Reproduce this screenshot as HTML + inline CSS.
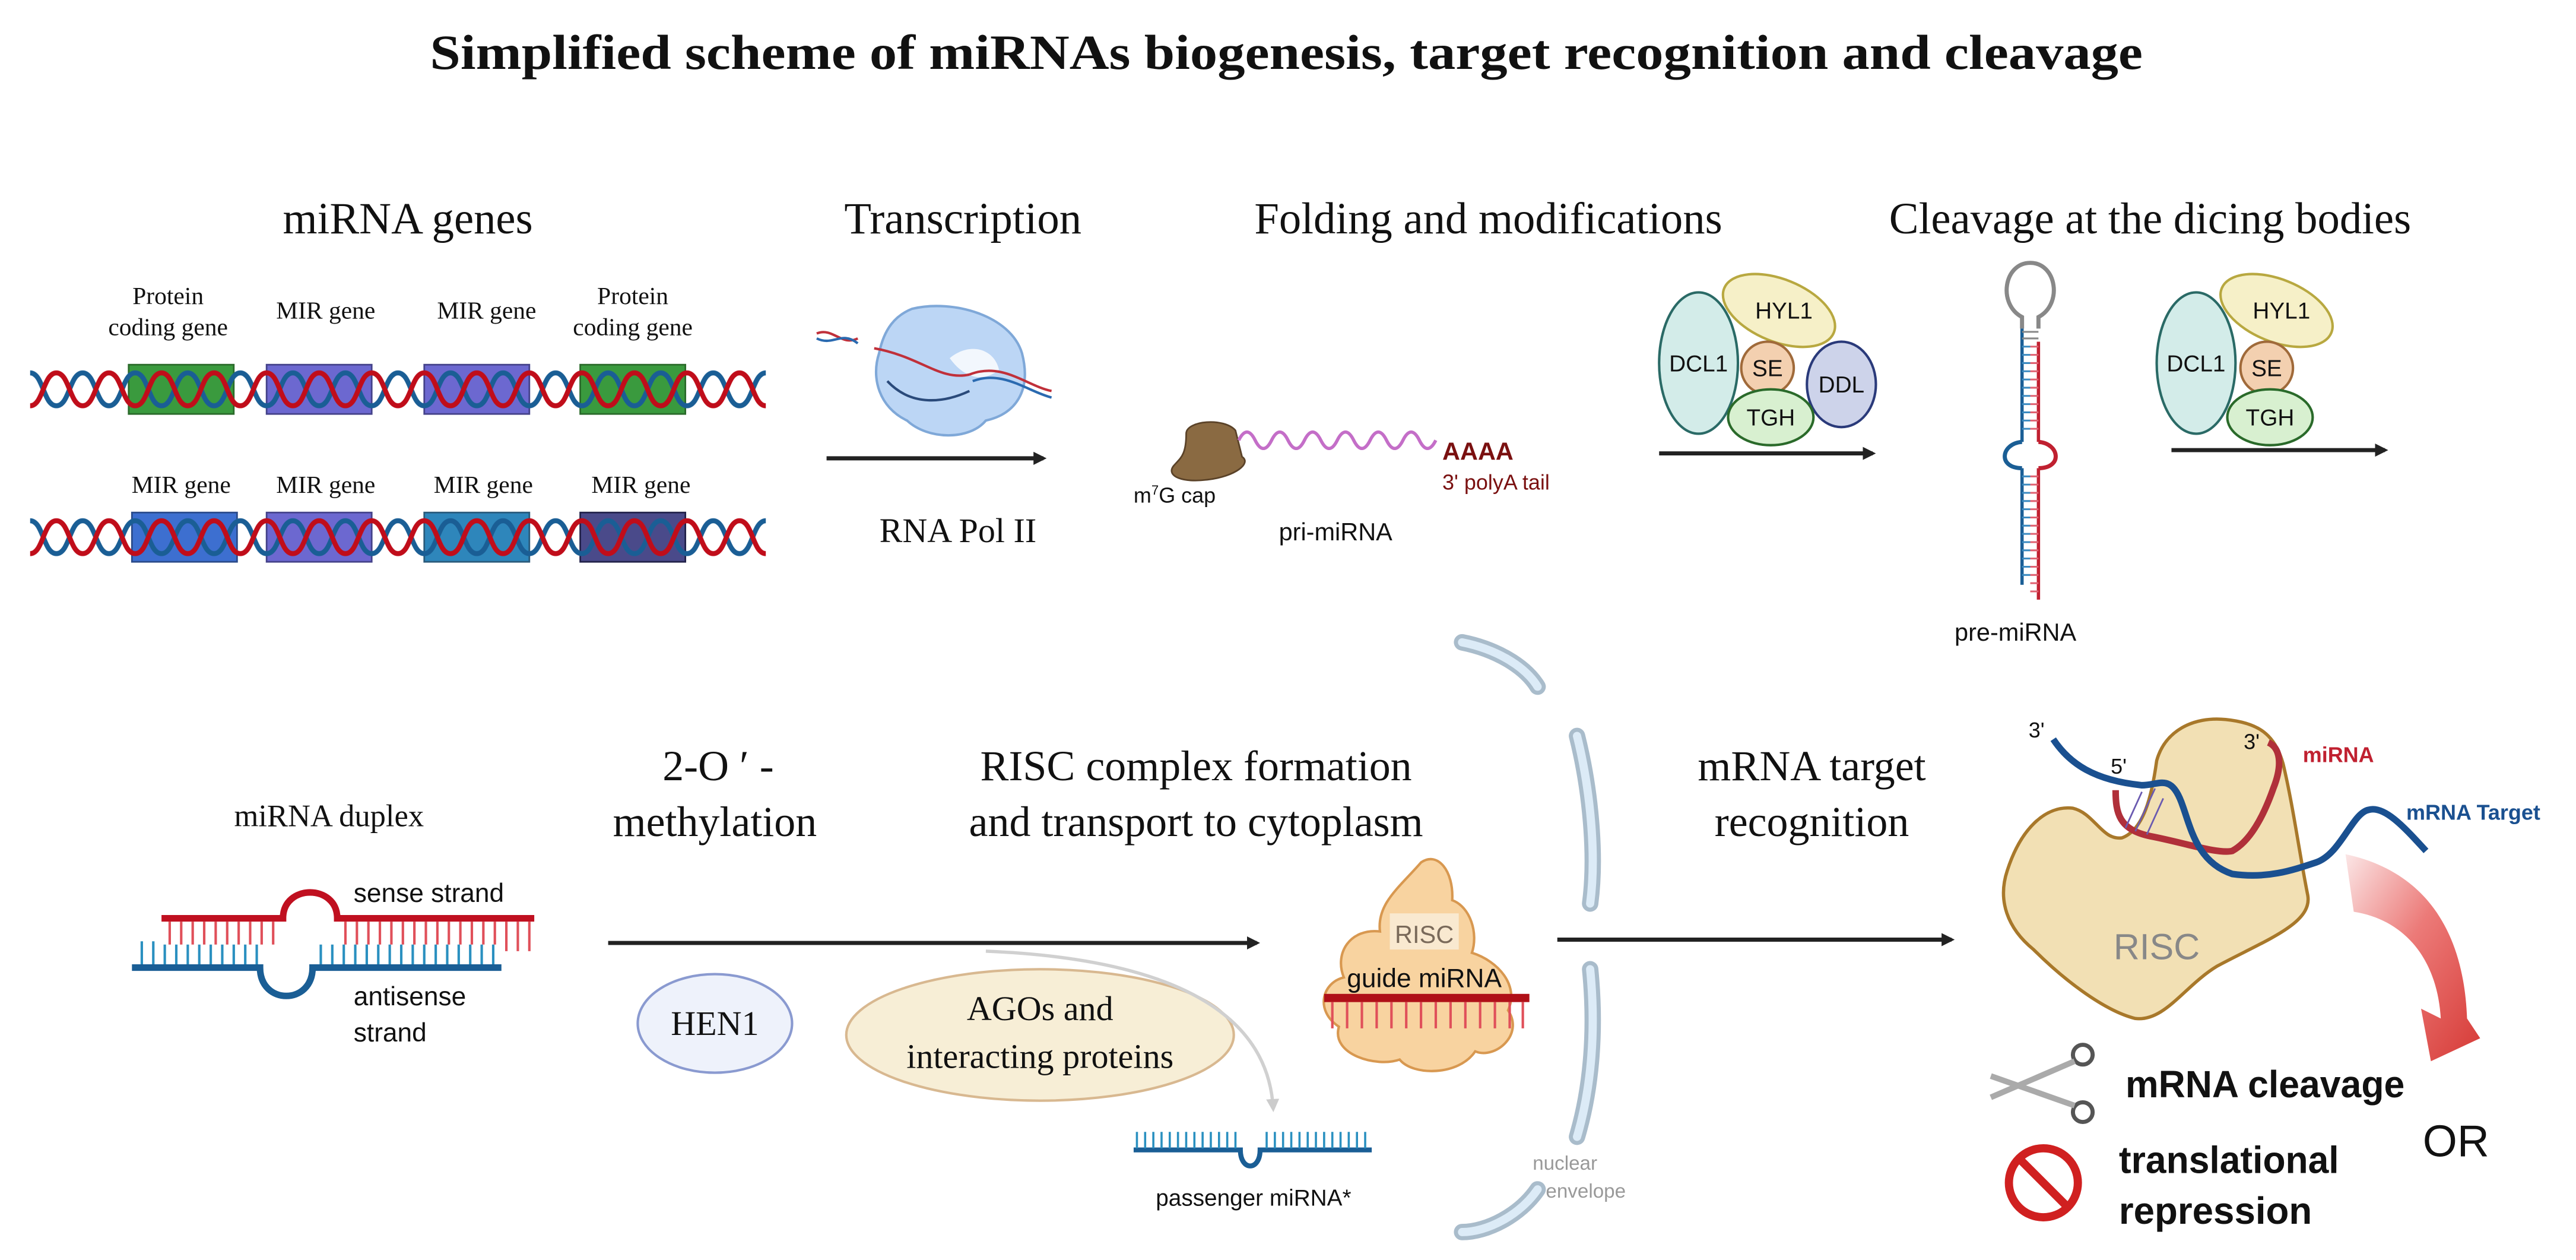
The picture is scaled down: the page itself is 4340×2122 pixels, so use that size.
<!DOCTYPE html>
<html><head><meta charset="utf-8"><style>
html,body{margin:0;padding:0;background:#fff}
svg{display:block}
.s{font-family:"Liberation Serif",serif;fill:#111}
.a{font-family:"Liberation Sans",sans-serif;fill:#111}
</style></head><body>
<svg width="4340" height="2122" viewBox="0 0 1568 767" xmlns="http://www.w3.org/2000/svg">
<defs>
<marker id="ar" markerWidth="8" markerHeight="8" refX="6" refY="4" orient="auto" markerUnits="userSpaceOnUse"><path d="M0,0 L8,4 L0,8 z" fill="#222"/></marker>
<marker id="ag" markerWidth="8" markerHeight="8" refX="6" refY="4" orient="auto" markerUnits="userSpaceOnUse"><path d="M0,0 L8,4 L0,8 z" fill="#ccc"/></marker>
<linearGradient id="rg" x1="0" y1="0" x2="1" y2="1"><stop offset="0" stop-color="#fbe6e6"/><stop offset="0.45" stop-color="#ec7a78"/><stop offset="1" stop-color="#d63a36"/></linearGradient>
<pattern id="dna" width="32" height="30" patternUnits="userSpaceOnUse" x="18">
<path d="M0,5 C8,5 8,25 16,25 C24,25 24,5 32,5" fill="none" stroke="#1a5e95" stroke-width="3"/>
<path d="M0,25 C8,25 8,5 16,5 C24,25 24,25 32,25" fill="none" stroke="none"/>
<path d="M0,25 C8,25 8,5 16,5 C24,5 24,25 32,25" fill="none" stroke="#c00d1a" stroke-width="3"/>
</pattern>
</defs>

<text x="783" y="42" text-anchor="middle" class="s" font-size="30" font-weight="bold" textLength="1043" lengthAdjust="spacingAndGlyphs">Simplified scheme of miRNAs biogenesis, target recognition and cleavage</text>

<text x="248" y="142" text-anchor="middle" class="s" font-size="27">miRNA genes</text>
<text x="586" y="142" text-anchor="middle" class="s" font-size="27">Transcription</text>
<text x="906" y="142" text-anchor="middle" class="s" font-size="27">Folding and modifications</text>
<text x="1309" y="142" text-anchor="middle" class="s" font-size="27">Cleavage at the dicing bodies</text>

<!-- DNA rows -->
<g font-size="15" class="s" text-anchor="middle">
<text x="102" y="185">Protein</text><text x="102" y="204">coding gene</text>
<text x="198" y="194">MIR gene</text><text x="296" y="194">MIR gene</text>
<text x="385" y="185">Protein</text><text x="385" y="204">coding gene</text>
<text x="110" y="300">MIR gene</text><text x="198" y="300">MIR gene</text><text x="294" y="300">MIR gene</text><text x="390" y="300">MIR gene</text>
</g>
<rect x="78" y="222" width="64" height="30" fill="#3a9a3e" stroke="#2a6a2a"/>
<rect x="162" y="222" width="64" height="30" fill="#6c68d0" stroke="#44428a"/>
<rect x="258" y="222" width="64" height="30" fill="#6c68d0" stroke="#44428a"/>
<rect x="353" y="222" width="64" height="30" fill="#3a9a3e" stroke="#2a6a2a"/>
<g transform="translate(0,222)"><rect x="18" y="0" width="448" height="30" fill="url(#dna)"/></g>
<rect x="80" y="312" width="64" height="30" fill="#3d6fd0" stroke="#2a4a8a"/>
<rect x="162" y="312" width="64" height="30" fill="#6c68d0" stroke="#44428a"/>
<rect x="258" y="312" width="64" height="30" fill="#2e86bb" stroke="#2a5a7a"/>
<rect x="353" y="312" width="64" height="30" fill="#4a4a8a" stroke="#22224a"/>
<g transform="translate(0,312)"><rect x="18" y="0" width="448" height="30" fill="url(#dna)"/></g>

<!-- Pol II -->
<path d="M555,188 C580,182 615,192 622,215 C628,238 618,252 600,256 C590,268 565,268 552,256 C535,248 530,230 535,215 C538,200 545,192 555,188z" fill="#bcd6f5" stroke="#7fa8d8" stroke-width="1.5"/>
<path d="M578,218 C590,208 605,212 608,225 C600,232 588,232 578,218z" fill="#fff" opacity="0.8"/>
<path d="M497,203 C507,199 512,211 522,206 M532,212 C560,217 572,232 590,228 M590,228 C610,220 625,235 640,238" fill="none" stroke="#c0303a" stroke-width="1.5"/>
<path d="M497,206 C507,211 512,201 522,209 M592,232 C610,225 625,238 640,242" fill="none" stroke="#2a6ab0" stroke-width="1.5"/>
<path d="M540,232 C555,248 575,245 590,238" fill="none" stroke="#2a4a7a" stroke-width="1.5"/>
<line x1="503" y1="279" x2="635" y2="279" stroke="#222" stroke-width="2.5" marker-end="url(#ar)"/>
<text x="583" y="330" text-anchor="middle" class="s" font-size="21">RNA Pol II</text>

<!-- pri-miRNA -->
<path d="M722,264 C722,256 745,254 752,262 L756,278 C762,282 752,290 735,292 C720,294 710,290 714,284 C718,279 722,278 722,264z" fill="#8a6a42" stroke="#5a4228"/>
<path d="M754,268 q5,-10 10,0 t10,0 t10,0 t10,0 t10,0 t10,0 t10,0 t10,0 t10,0 t10,0 t10,0 t10,0" fill="none" stroke="#c46ec8" stroke-width="2"/>
<text x="878" y="280" class="a" font-size="15" font-weight="bold" style="fill:#7a1010">AAAA</text>
<text x="878" y="298" class="a" font-size="13" style="fill:#7a1010">3'  polyA tail</text>
<text x="690" y="306" class="a" font-size="13">m<tspan font-size="8" dy="-5">7</tspan><tspan dy="5">G cap</tspan></text>
<text x="813" y="329" text-anchor="middle" class="a" font-size="15">pri-miRNA</text>

<!-- protein complex 1 -->
<g stroke-width="1.5" class="a" font-size="14" text-anchor="middle">
<ellipse cx="1034" cy="221" rx="24" ry="43" fill="#d3ece9" stroke="#2a6a66"/>
<ellipse cx="1083" cy="189" rx="36" ry="19" transform="rotate(22 1083 189)" fill="#f6f0c8" stroke="#b8a840"/>
<ellipse cx="1121" cy="234" rx="21" ry="26" fill="#cdd3ea" stroke="#2a3a7a"/>
<ellipse cx="1076" cy="224" rx="16" ry="16" fill="#f3d0b0" stroke="#a06a3a"/>
<ellipse cx="1078" cy="254" rx="26" ry="17" fill="#d8f0d0" stroke="#2a6a2a"/>
<text x="1034" y="226">DCL1</text><text x="1086" y="194">HYL1</text><text x="1076" y="229">SE</text><text x="1121" y="239">DDL</text><text x="1078" y="259">TGH</text>
</g>
<line x1="1010" y1="276" x2="1140" y2="276" stroke="#222" stroke-width="2.5" marker-end="url(#ar)"/>

<!-- pre-miRNA hairpin -->
<path d="M1231,200 L1231,193 C1216,185 1220,160 1236,160 C1252,160 1256,185 1241,193 L1241,200" fill="none" stroke="#888" stroke-width="2.5"/>
<g stroke-width="2">
<line x1="1231" y1="200" x2="1231" y2="269" stroke="#1a5e95"/>
<line x1="1241" y1="208" x2="1241" y2="269" stroke="#c02030"/>
<line x1="1231" y1="285" x2="1231" y2="356" stroke="#1a5e95"/>
<line x1="1241" y1="285" x2="1241" y2="365" stroke="#c02030"/>
<path d="M1231,269 C1218,270 1216,285 1231,285" fill="none" stroke="#1a5e95" stroke-width="2.5"/>
<path d="M1241,269 C1254,270 1256,285 1241,285" fill="none" stroke="#c02030" stroke-width="2.5"/>
</g>
<g stroke-width="1.1">
<path d="M1231,211h5M1231,216h5M1231,221h5M1231,226h5M1231,231h5M1231,236h5M1231,241h5M1231,246h5M1231,251h5M1231,256h5M1231,261h5M1231,290h5M1231,295h5M1231,300h5M1231,305h5M1231,310h5M1231,315h5M1231,320h5M1231,325h5M1231,330h5M1231,335h5M1231,340h5M1231,345h5M1231,350h5" stroke="#3a8ac0"/>
<path d="M1236,211h5M1236,216h5M1236,221h5M1236,226h5M1236,231h5M1236,236h5M1236,241h5M1236,246h5M1236,251h5M1236,256h5M1236,261h5M1236,290h5M1236,295h5M1236,300h5M1236,305h5M1236,310h5M1236,315h5M1236,320h5M1236,325h5M1236,330h5M1236,335h5M1236,340h5M1236,345h5M1236,350h5M1236,355h5M1236,360h5" stroke="#e06070"/>
<path d="M1231,202h10M1231,206h10" stroke="#888"/>
</g>
<text x="1227" y="390" text-anchor="middle" class="a" font-size="15">pre-miRNA</text>

<!-- protein complex 2 -->
<g stroke-width="1.5" class="a" font-size="14" text-anchor="middle">
<ellipse cx="1337" cy="221" rx="24" ry="43" fill="#d3ece9" stroke="#2a6a66"/>
<ellipse cx="1386" cy="189" rx="36" ry="19" transform="rotate(22 1386 189)" fill="#f6f0c8" stroke="#b8a840"/>
<ellipse cx="1380" cy="224" rx="16" ry="16" fill="#f3d0b0" stroke="#a06a3a"/>
<ellipse cx="1382" cy="254" rx="26" ry="17" fill="#d8f0d0" stroke="#2a6a2a"/>
<text x="1337" y="226">DCL1</text><text x="1389" y="194">HYL1</text><text x="1380" y="229">SE</text><text x="1382" y="259">TGH</text>
</g>
<line x1="1322" y1="274" x2="1452" y2="274" stroke="#222" stroke-width="2.5" marker-end="url(#ar)"/>

<!-- nuclear envelope -->
<g fill="none" stroke-linecap="round">
<g stroke="#a9bccb" stroke-width="10">
<path d="M890,391 C910,395 928,405 936,418"/>
<path d="M960,448 C968,480 972,520 968,550"/>
<path d="M968,590 C972,630 968,665 960,692"/>
<path d="M936,724 C925,740 905,750 890,750"/>
</g>
<g stroke="#dcebf7" stroke-width="5">
<path d="M890,391 C910,395 928,405 936,418"/>
<path d="M960,448 C968,480 972,520 968,550"/>
<path d="M968,590 C972,630 968,665 960,692"/>
<path d="M936,724 C925,740 905,750 890,750"/>
</g>
</g>
<text x="933" y="712" class="a" font-size="12" style="fill:#999">nuclear</text>
<text x="941" y="729" class="a" font-size="12" style="fill:#999">envelope</text>

<!-- bottom titles -->
<text x="437" y="475" text-anchor="middle" class="s" font-size="26">2-O ′ -</text>
<text x="435" y="509" text-anchor="middle" class="s" font-size="26">methylation</text>
<text x="728" y="475" text-anchor="middle" class="s" font-size="26">RISC complex formation</text>
<text x="728" y="509" text-anchor="middle" class="s" font-size="26">and transport to cytoplasm</text>
<text x="1103" y="475" text-anchor="middle" class="s" font-size="26">mRNA target</text>
<text x="1103" y="509" text-anchor="middle" class="s" font-size="26">recognition</text>
<text x="200" y="503" text-anchor="middle" class="s" font-size="19">miRNA duplex</text>

<!-- duplex -->
<g fill="none">
<path d="M98,559 H172 C172,538 205,538 205,559 H325" stroke="#c01020" stroke-width="4"/>
<path d="M80,589 H158 C158,612 190,612 190,589 H305" stroke="#1a5e95" stroke-width="4"/>
<path d="M103,561v14M110,561v14M117,561v14M124,561v14M131,561v14M138,561v14M145,561v14M152,561v14M159,561v14M166,561v14M210,561v14M217,561v14M224,561v14M231,561v14M238,561v14M245,561v14M252,561v14M259,561v14M266,561v14M273,561v14M280,561v14M287,561v14M294,561v14M301,561v14M308,561v18M315,561v18M322,561v18" stroke="#e0505a" stroke-width="1.5"/>
<path d="M86,573v14M93,573v14M100,575v12M107,575v12M114,575v12M121,575v12M128,575v12M135,575v12M142,575v12M149,575v12M156,575v12M195,575v12M202,575v12M209,575v12M216,575v12M223,575v12M230,575v12M237,575v12M244,575v12M251,575v12M258,575v12M265,575v12M272,575v12M279,575v12M286,575v12M293,575v12M300,575v12" stroke="#2a90c0" stroke-width="1.5"/>
</g>
<text x="215" y="549" class="a" font-size="16">sense strand</text>
<text x="215" y="612" class="a" font-size="16">antisense</text>
<text x="215" y="634" class="a" font-size="16">strand</text>

<line x1="370" y1="574" x2="765" y2="574" stroke="#222" stroke-width="2.5" marker-end="url(#ar)"/>
<ellipse cx="435" cy="623" rx="47" ry="30" fill="#eef2fb" stroke="#8a9ad0" stroke-width="1.5"/>
<text x="435" y="630" text-anchor="middle" class="s" font-size="21">HEN1</text>
<ellipse cx="633" cy="630" rx="118" ry="40" fill="#f7eed6" stroke="#d8b890" stroke-width="1.5"/>
<text x="633" y="621" text-anchor="middle" class="s" font-size="21">AGOs and</text>
<text x="633" y="650" text-anchor="middle" class="s" font-size="21">interacting proteins</text>
<path d="M600,579 C720,584 772,620 775,675" fill="none" stroke="#d0d0d0" stroke-width="2" marker-end="url(#ag)"/>
<path d="M690,700 H755 C755,713 767,713 767,700 H835" fill="none" stroke="#1a5e95" stroke-width="3"/>
<path d="M692,699v-10M697,699v-10M702,699v-10M707,699v-10M712,699v-10M717,699v-10M722,699v-10M727,699v-10M732,699v-10M737,699v-10M742,699v-10M747,699v-10M752,699v-10M771,699v-10M776,699v-10M781,699v-10M786,699v-10M791,699v-10M796,699v-10M801,699v-10M806,699v-10M811,699v-10M816,699v-10M821,699v-10M826,699v-10M831,699v-10" stroke="#2a90c0" stroke-width="1.3"/>
<text x="763" y="734" text-anchor="middle" class="a" font-size="14">passenger miRNA*</text>

<!-- RISC blob small -->
<path d="M865,525 C875,518 885,530 884,548 C895,552 900,568 896,580 C912,585 925,600 918,615 C928,630 910,645 898,640 C888,655 860,655 852,645 C838,650 810,642 815,625 C800,615 805,598 818,595 C812,580 822,565 840,567 C838,550 852,540 865,525z" fill="#f8d3a0" stroke="#d89850" stroke-width="1.5"/>
<rect x="846" y="556" width="42" height="22" fill="#f9e9d0"/>
<text x="867" y="574" text-anchor="middle" class="a" font-size="15" style="fill:#7a6a5a">RISC</text>
<text x="867" y="601" text-anchor="middle" class="a" font-size="16">guide miRNA</text>
<rect x="806" y="605" width="125" height="5" fill="#b01018"/>
<path d="M811,610v16M820,610v16M829,610v16M838,610v16M847,610v16M856,610v16M865,610v16M874,610v16M883,610v16M892,610v16M901,610v16M910,610v16M919,610v16M927,610v16" stroke="#e0505a" stroke-width="1.5"/>

<line x1="948" y1="572" x2="1188" y2="572" stroke="#222" stroke-width="2.5" marker-end="url(#ar)"/>

<!-- right RISC -->
<path d="M1313,463 C1318,445 1335,436 1355,438 C1375,440 1385,447 1390,465 C1396,490 1400,520 1405,545 C1408,562 1380,572 1350,588 C1330,600 1318,622 1300,620 C1280,615 1255,595 1238,578 C1222,565 1216,548 1222,530 C1230,505 1245,490 1262,492 C1275,495 1280,512 1292,510 C1305,505 1310,485 1313,463z" fill="#f2e0b4" stroke="#a8782a" stroke-width="2"/>
<text x="1313" y="584" text-anchor="middle" class="a" font-size="22" style="fill:#888">RISC</text>
<path d="M1288,481 C1288,495 1290,505 1309,509 C1330,513 1350,520 1359,518 C1370,512 1378,497 1384,480 C1390,465 1388,455 1381,452" fill="none" stroke="#b0303a" stroke-width="4"/>
<path d="M1294,504 l10,-22 M1300,506 l12,-26 M1307,508 l10,-22" stroke="#6a5ab0" stroke-width="1"/>
<path d="M1250,450 C1260,465 1275,475 1304,478 C1315,478 1322,470 1329,491 C1334,505 1338,525 1359,532 C1380,535 1395,530 1410,525 C1425,520 1432,495 1442,493 C1452,490 1465,505 1477,518" fill="none" stroke="#1a5090" stroke-width="4"/>
<text x="1235" y="449" class="a" font-size="13">3'</text>
<text x="1285" y="471" class="a" font-size="13">5'</text>
<text x="1366" y="456" class="a" font-size="13">3'</text>
<text x="1402" y="464" class="a" font-size="13" font-weight="bold" style="fill:#c02030">miRNA</text>
<text x="1465" y="499" class="a" font-size="13" font-weight="bold" style="fill:#1a5090">mRNA Target</text>
<path d="M1428,520 C1475,530 1500,565 1502,620 L1510,632 L1480,646 L1474,614 L1486,620 C1484,585 1465,560 1433,555z" fill="url(#rg)"/>
<!-- scissors -->
<g stroke="#555" stroke-width="2.5" fill="none">
<circle cx="1268" cy="642" r="6"/><circle cx="1268" cy="677" r="6"/>
</g>
<path d="M1263,646 L1212,668 M1263,673 L1212,655" fill="none" stroke="#aaa" stroke-width="3.5"/>
<text x="1294" y="668" class="a" font-size="23" font-weight="bold" textLength="170" lengthAdjust="spacingAndGlyphs">mRNA cleavage</text>
<circle cx="1244" cy="720" r="21" fill="none" stroke="#d02020" stroke-width="5"/>
<line x1="1230" y1="706" x2="1258" y2="734" stroke="#d02020" stroke-width="5"/>
<text x="1290" y="714" class="a" font-size="23" font-weight="bold" textLength="134" lengthAdjust="spacingAndGlyphs">translational</text>
<text x="1290" y="745" class="a" font-size="23" font-weight="bold">repression</text>
<text x="1475" y="704" class="a" font-size="27">OR</text>
</svg>
</body></html>
